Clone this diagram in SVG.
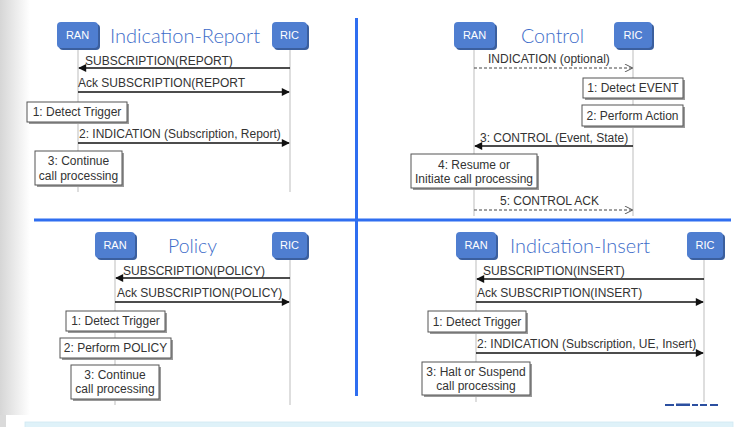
<svg xmlns="http://www.w3.org/2000/svg" width="745" height="427" viewBox="0 0 745 427">
<defs>
<linearGradient id="lg" x1="0" y1="0" x2="1" y2="0">
<stop offset="0" stop-color="#d6d6d6"/>
<stop offset="1" stop-color="#ffffff"/>
</linearGradient>
<marker id="fa" viewBox="0 0 10 10" refX="9" refY="5" markerWidth="9" markerHeight="8" markerUnits="userSpaceOnUse" orient="auto">
<path d="M0,0 L10,5 L0,10 z" fill="#111"/>
</marker>
<marker id="oa" viewBox="0 0 10 10" refX="9" refY="5" markerWidth="9" markerHeight="8" markerUnits="userSpaceOnUse" orient="auto">
<path d="M0,0 L10,5 L0,10" fill="none" stroke="#555" stroke-width="1.2"/>
</marker>
</defs>
<style>
.ent{fill:#4f7ed0}
.entsh{fill:#3b5f9e}
.entt{font-family:"Liberation Sans",Arial,sans-serif;font-size:11px;fill:#ffffff;text-anchor:middle}
.title{font-family:Lato,"Open Sans",sans-serif;font-size:19.5px;font-weight:300;fill:#3d6cc9}
.life{stroke:#bdbdbd;stroke-width:1;fill:none}
.msg{stroke:#111;stroke-width:1.5;fill:none;marker-end:url(#fa)}
.dmsg{stroke:#444;stroke-width:1.2;fill:none;stroke-dasharray:3 2;marker-end:url(#oa)}
.mt{font-family:"Liberation Sans",Arial,sans-serif;font-size:12px;fill:#333}
.box{fill:#ffffff;stroke:#555;stroke-width:1}
.bsh{fill:#9a9a9a}
.bt{font-family:"Liberation Sans",Arial,sans-serif;font-size:12px;fill:#333;text-anchor:middle}
.div{stroke:#2f6ef0;stroke-width:3;fill:none}
</style>
<rect x="0" y="0" width="745" height="427" fill="#ffffff"/>
<rect x="0" y="0" width="30" height="415" fill="url(#lg)"/>
<rect x="0" y="415" width="6" height="12" fill="#dadada"/>
<rect x="25" y="422" width="708" height="6" fill="#dff2f9" stroke="#cfe8f2" stroke-width="0.8"/>

<g id="dividers">
<line class="div" x1="356.5" y1="18" x2="356.5" y2="396"/>
<line class="div" x1="34" y1="220" x2="731" y2="220"/>
</g>

<!-- Indication-Report -->
<g id="ir-lifelines">
<line class="life" x1="78" y1="48" x2="78" y2="192"/>
<line class="life" x1="290" y1="48" x2="290" y2="192"/>
</g>
<g id="ir-ran"><rect class="entsh" x="59" y="24" width="41" height="26" rx="4"/><rect class="ent" x="57" y="22" width="41" height="26" rx="4"/><text class="entt" x="77.5" y="39">RAN</text></g>
<g id="ir-ric"><rect class="entsh" x="274" y="24" width="35" height="26" rx="4"/><rect class="ent" x="272" y="22" width="35" height="26" rx="4"/><text class="entt" x="289.5" y="39">RIC</text></g>
<g id="ir-title"><text class="title" x="110" y="43" textLength="150" lengthAdjust="spacingAndGlyphs">Indication-Report</text></g>
<g id="ir-step1"><rect class="bsh" x="29" y="104" width="100" height="20"/><rect class="box" x="27" y="102" width="100" height="20"/><text class="bt" x="77" y="116">1: Detect Trigger</text></g>
<g id="ir-step3"><rect class="bsh" x="37" y="153" width="87" height="34"/><rect class="box" x="35" y="151" width="87" height="34"/><text class="bt" x="78.5" y="165">3: Continue</text><text class="bt" x="78.5" y="180">call processing</text></g>

<!-- Control -->
<g id="c-lifelines">
<line class="life" x1="474" y1="48" x2="474" y2="216"/>
<line class="life" x1="633" y1="48" x2="633" y2="216"/>
</g>
<g id="c-ran"><rect class="entsh" x="456" y="24" width="41" height="26" rx="4"/><rect class="ent" x="454" y="22" width="41" height="26" rx="4"/><text class="entt" x="474.5" y="39">RAN</text></g>
<g id="c-ric"><rect class="entsh" x="616" y="24" width="38" height="26" rx="4"/><rect class="ent" x="614" y="22" width="38" height="26" rx="4"/><text class="entt" x="633" y="39">RIC</text></g>
<g id="c-title"><text class="title" x="521" y="43" textLength="63" lengthAdjust="spacingAndGlyphs">Control</text></g>
<g id="c-step1"><rect class="bsh" x="585" y="80" width="100" height="20"/><rect class="box" x="583" y="78" width="100" height="20"/><text class="bt" x="633" y="92">1: Detect EVENT</text></g>
<g id="c-step2"><rect class="bsh" x="584" y="107" width="101" height="21"/><rect class="box" x="582" y="105" width="101" height="21"/><text class="bt" x="632.5" y="120">2: Perform Action</text></g>
<g id="c-step4"><rect class="bsh" x="413" y="156" width="126" height="34"/><rect class="box" x="411" y="154" width="126" height="34"/><text class="bt" x="474" y="169">4: Resume or</text><text class="bt" x="474" y="183">Initiate call processing</text></g>

<!-- Policy -->
<g id="p-lifelines">
<line class="life" x1="115" y1="258" x2="115" y2="405"/>
<line class="life" x1="290" y1="258" x2="290" y2="405"/>
</g>
<g id="p-ran"><rect class="entsh" x="97" y="234" width="40" height="26" rx="4"/><rect class="ent" x="95" y="232" width="40" height="26" rx="4"/><text class="entt" x="115" y="249">RAN</text></g>
<g id="p-ric"><rect class="entsh" x="274" y="234" width="35" height="26" rx="4"/><rect class="ent" x="272" y="232" width="35" height="26" rx="4"/><text class="entt" x="289.5" y="249">RIC</text></g>
<g id="p-title"><text class="title" x="168" y="253" textLength="49" lengthAdjust="spacingAndGlyphs">Policy</text></g>
<g id="p-step1"><rect class="bsh" x="68" y="313" width="99" height="20"/><rect class="box" x="66" y="311" width="99" height="20"/><text class="bt" x="115.5" y="325">1: Detect Trigger</text></g>
<g id="p-step2"><rect class="bsh" x="62" y="340" width="111" height="20"/><rect class="box" x="60" y="338" width="111" height="20"/><text class="bt" x="115.5" y="352">2: Perform POLICY</text></g>
<g id="p-step3"><rect class="bsh" x="73" y="367" width="88" height="34"/><rect class="box" x="71" y="365" width="88" height="34"/><text class="bt" x="115" y="379">3: Continue</text><text class="bt" x="115" y="393">call processing</text></g>

<!-- Indication-Insert -->
<g id="ii-lifelines">
<line class="life" x1="476" y1="258" x2="476" y2="402"/>
<line class="life" x1="704" y1="258" x2="704" y2="402"/>
</g>
<g id="ii-ran"><rect class="entsh" x="458" y="234" width="40" height="26" rx="4"/><rect class="ent" x="456" y="232" width="40" height="26" rx="4"/><text class="entt" x="476" y="249">RAN</text></g>
<g id="ii-ric"><rect class="entsh" x="689" y="234" width="36" height="26" rx="4"/><rect class="ent" x="687" y="232" width="36" height="26" rx="4"/><text class="entt" x="705" y="249">RIC</text></g>
<g id="ii-title"><text class="title" x="510" y="253" textLength="140" lengthAdjust="spacingAndGlyphs">Indication-Insert</text></g>
<g id="ii-step1"><rect class="bsh" x="430" y="313" width="98" height="21"/><rect class="box" x="428" y="311" width="98" height="21"/><text class="bt" x="477" y="326">1: Detect Trigger</text></g>
<g id="ii-step3"><rect class="bsh" x="424" y="364" width="108" height="33"/><rect class="box" x="422" y="362" width="108" height="33"/><text class="bt" x="476" y="376">3: Halt or Suspend</text><text class="bt" x="476" y="390">call processing</text></g>

<g id="connectors">
<line class="msg" x1="290" y1="68" x2="79" y2="68"/>
<text class="mt" x="85" y="65">SUBSCRIPTION(REPORT)</text>
<line class="msg" x1="78" y1="92" x2="289" y2="92"/>
<text class="mt" x="78" y="87">Ack SUBSCRIPTION(REPORT</text>
<line class="msg" x1="78" y1="143" x2="289" y2="143"/>
<text class="mt" x="79" y="138">2: INDICATION (Subscription, Report)</text>

<line class="dmsg" x1="474" y1="68" x2="632" y2="68"/>
<text class="mt" x="488" y="63">INDICATION (optional)</text>
<line class="msg" x1="633" y1="146" x2="475" y2="146"/>
<text class="mt" x="480" y="142">3: CONTROL (Event, State)</text>
<line class="dmsg" x1="474" y1="210" x2="632" y2="210"/>
<text class="mt" x="500" y="205">5: CONTROL ACK</text>

<line class="msg" x1="290" y1="278" x2="116" y2="278"/>
<text class="mt" x="123" y="275">SUBSCRIPTION(POLICY)</text>
<line class="msg" x1="115" y1="302" x2="289" y2="302"/>
<text class="mt" x="117" y="297">Ack SUBSCRIPTION(POLICY)</text>

<line class="msg" x1="704" y1="279" x2="477" y2="279"/>
<text class="mt" x="483" y="275">SUBSCRIPTION(INSERT)</text>
<line class="msg" x1="476" y1="302" x2="703" y2="302"/>
<text class="mt" x="477" y="297">Ack SUBSCRIPTION(INSERT)</text>
<line class="msg" x1="476" y1="353" x2="703" y2="353"/>
<text class="mt" x="477" y="348">2: INDICATION (Subscription, UE, Insert)</text>
</g>
<g id="logo-fragment" fill="#2b4fa0">
<rect x="665" y="404" width="9" height="2"/><rect x="676" y="403.5" width="14" height="2.5"/><rect x="692" y="404" width="6" height="2"/><rect x="700" y="404" width="7" height="2"/><rect x="710" y="404" width="8" height="2"/>
</g>
</svg>
